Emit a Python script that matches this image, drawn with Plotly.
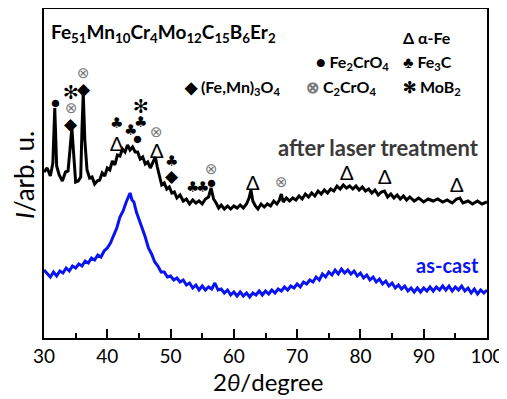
import plotly.graph_objects as go

# ---------------- data (arbitrary intensity units) ----------------
two_theta_laser = [30.0, 30.5, 31.0, 31.4, 31.7, 32.0, 32.4, 32.9, 33.4, 33.8, 34.1, 34.4, 34.7, 35.0, 35.4,
                   35.8, 36.0, 36.2, 36.45, 36.8, 37.2, 37.6, 38.0, 38.4, 38.8, 39.2, 39.6, 40.0, 40.4, 40.8,
                   41.2, 41.6, 42.0, 42.4, 42.8, 43.2, 43.6, 44.0, 44.4, 44.8, 45.2, 45.6, 46.0, 46.4, 46.8,
                   47.2, 47.6, 47.9, 48.2, 48.6, 49.0, 49.4, 49.8, 50.2, 50.6, 51.0, 51.5, 52.0, 52.5, 53.0,
                   53.5, 54.0, 54.5, 55.0, 55.5, 56.0, 56.4, 56.8, 57.2, 57.6, 58.0, 58.5, 59.0, 59.5, 60.0,
                   60.5, 61.0, 61.5, 62.0, 62.4, 62.7, 63.0, 63.4, 63.8, 64.3, 64.8, 65.3, 65.8, 66.3, 66.8,
                   67.2, 67.5, 67.8, 68.3, 68.8, 69.3, 69.8, 70.3, 70.8, 71.3, 71.8, 72.3, 72.8, 73.3, 73.8,
                   74.3, 74.8, 75.3, 75.8, 76.3, 76.8, 77.3, 77.8, 78.3, 78.8, 79.3, 79.8, 80.3, 80.8, 81.3,
                   81.8, 82.3, 82.8, 83.3, 83.8, 84.3, 84.8, 85.3, 85.8, 86.3, 86.8, 87.3, 87.8, 88.5, 89.2,
                   90.0, 90.7, 91.5, 92.2, 93.0, 93.7, 94.5, 95.2, 95.7, 96.2, 97.0, 97.7, 98.5, 99.2, 100.0]
intensity_laser = [166, 170, 162, 175, 230, 172, 163, 157, 166, 167, 188, 210, 183, 156, 157,
                   161, 208, 245, 198, 168, 160, 161, 154, 157, 158, 165, 162, 170, 168, 177,
                   173, 183, 182, 189, 186, 193, 188, 191, 186, 186, 179, 181, 174, 176, 170,
                   176, 181, 171, 163, 153, 155, 149, 151, 145, 146, 140, 143, 137, 139, 134,
                   138, 135, 137, 134, 139, 141, 150, 139, 135, 130, 133, 129, 132, 129, 132,
                   130, 133, 130, 134, 140, 148, 137, 132, 129, 134, 131, 134, 132, 137, 134,
                   138, 144, 136, 140, 137, 140, 138, 142, 139, 144, 141, 145, 142, 147, 144,
                   148, 145, 149, 147, 152, 149, 153, 150, 152, 149, 152, 148, 151, 147, 149,
                   145, 148, 143, 146, 147, 141, 144, 140, 143, 139, 142, 138, 141, 137, 140,
                   136, 139, 137, 139, 136, 138, 135, 139, 140, 135, 137, 134, 137, 134, 136]

two_theta_cast = [30.0, 30.5, 31.0, 31.5, 32.0, 32.5, 33.0, 33.5, 34.0, 34.5, 35.0, 35.5, 36.0, 36.5, 37.0,
                  37.5, 38.0, 38.5, 39.0, 39.5, 40.0, 40.5, 41.0, 41.5, 42.0, 42.5, 43.0, 43.3, 43.6, 43.9,
                  44.2, 44.6, 45.0, 45.5, 46.0, 46.5, 47.0, 47.5, 48.0, 48.5, 49.0, 49.5, 50.0, 50.5, 51.0,
                  51.5, 52.0, 52.5, 53.0, 53.5, 54.0, 54.5, 55.0, 55.5, 56.0, 56.5, 57.0, 57.5, 58.0, 58.5,
                  59.0, 59.5, 60.0, 60.5, 61.0, 61.5, 62.0, 62.5, 63.0, 63.5, 64.0, 64.5, 65.0, 65.5, 66.0,
                  66.5, 67.0, 67.5, 68.0, 68.5, 69.0, 69.5, 70.0, 70.5, 71.0, 71.5, 72.0, 72.5, 73.0, 73.5,
                  74.0, 74.5, 75.0, 75.5, 76.0, 76.5, 77.0, 77.5, 78.0, 78.5, 79.0, 79.5, 80.0, 80.5, 81.0,
                  81.5, 82.0, 82.5, 83.0, 83.5, 84.0, 84.5, 85.0, 85.5, 86.0, 86.5, 87.0, 87.5, 88.0, 88.5,
                  89.0, 89.5, 90.0, 90.5, 91.0, 91.5, 92.0, 92.5, 93.0, 93.5, 94.0, 94.5, 95.0, 95.5, 96.0,
                  96.5, 97.0, 97.5, 98.0, 98.5, 99.0, 99.5, 100.0]
intensity_cast = [68, 64, 61, 66, 62, 67, 65, 70, 67, 72, 70, 74, 72, 77, 75,
                  80, 78, 83, 81, 87, 90, 95, 103, 110, 121, 127, 136, 140, 145, 138,
                  136, 126, 119, 109, 101, 90, 84, 76, 72, 66, 66, 61, 62, 58, 60,
                  56, 58, 53, 55, 50, 53, 48, 52, 48, 51, 49, 55, 48, 49, 45,
                  48, 43, 46, 42, 46, 42, 45, 41, 45, 43, 47, 43, 47, 44, 48,
                  45, 49, 47, 51, 48, 52, 50, 54, 51, 56, 54, 58, 56, 61, 58,
                  64, 61, 66, 63, 68, 64, 69, 65, 68, 64, 67, 62, 65, 60, 63,
                  58, 61, 56, 59, 54, 57, 52, 55, 50, 53, 49, 52, 47, 50, 46,
                  50, 46, 50, 47, 51, 47, 51, 48, 52, 48, 52, 47, 51, 48, 52,
                  47, 50, 45, 49, 44, 48, 45, 48]

# phase markers above the "after laser treatment" pattern
marker_symbols = ["●", "✻", "⊗", "◆", "⊗", "◆", "♣", "Δ", "♣", "✻", "♣", "●",
                  "⊗", "Δ", "♣", "◆", "♣", "♣", "⊗", "●", "Δ", "⊗", "Δ", "Δ", "Δ"]
marker_x = [31.8, 34.3, 34.3, 34.3, 36.2, 36.3, 41.5, 41.5, 43.6, 45.3, 45.3, 44.85,
            47.85, 47.85, 50.2, 50.2, 53.5, 55.1, 56.5, 56.5, 63.0, 67.6, 77.9, 83.9, 95.2]
marker_y = [236, 246, 230, 215, 265, 250, 215, 195, 208, 232, 216, 200,
            206, 188, 177, 163, 151, 151, 169, 156, 156, 156, 166, 162, 154]

legend_items = ["Δ α-Fe", "● Fe<sub>2</sub>CrO<sub>4</sub>", "♣ Fe<sub>3</sub>C",
                "◆ (Fe,Mn)<sub>3</sub>O<sub>4</sub>", "<span style='color:#777'>⊗</span> C<sub>2</sub>CrO<sub>4</sub>",
                "✻ MoB<sub>2</sub>"]

x_ticks = [30, 40, 50, 60, 70, 80, 90, 100]

# ---------------- figure ----------------
FONT = "Lato"
fig = go.Figure()
fig.add_trace(go.Scatter(x=two_theta_cast, y=intensity_cast, mode="lines",
                         line=dict(color="#0a14f0", width=3), showlegend=False))
fig.add_trace(go.Scatter(x=two_theta_laser, y=intensity_laser, mode="lines",
                         line=dict(color="black", width=3), showlegend=False))

# page body has an 8px default margin -> shrink figure and left/top margins by 8px
OFF = 8
W, H = 507, 399
L, R, T, B = 44, 20, 9, 61
pw, ph = W - L - R, H - T - B


def px(xp, yp):
    return (xp - L) / pw, (H - B - yp) / ph


sizes = {"●": 15, "✻": 19, "⊗": 15, "◆": 17, "♣": 15, "Δ": 20}
colors = {"⊗": "#777777"}
for s, xv, yv in zip(marker_symbols, marker_x, marker_y):
    fig.add_annotation(x=xv, y=yv, xref="x", yref="y", text=s, showarrow=False,
                       font=dict(family="DejaVu Sans" if s in "✻⊗♣" else FONT, size=sizes[s],
                                 color=colors.get(s, "black")),
                       xanchor="center", yanchor="middle")

ann_font = dict(family=FONT, size=18, color="black", weight="bold")


def label(text, xp, yp, anchor="left", font=None, angle=0):
    xx, yy = px(xp, yp)
    fig.add_annotation(x=xx, y=yy, xref="paper", yref="paper", text=text, showarrow=False,
                       xanchor=anchor, yanchor="middle", font=font or ann_font, textangle=angle)


label("Fe<sub>51</sub>Mn<sub>10</sub>Cr<sub>4</sub>Mo<sub>12</sub>C<sub>15</sub>B<sub>6</sub>Er<sub>2</sub>",
      49, 33, font=dict(family=FONT, size=19, color="black", weight="bold"))
leg_font = dict(family=FONT, size=16, color="black", weight="bold")
label(legend_items[0], 401, 37, font=leg_font)
label(legend_items[1], 314, 62, font=leg_font)
label(legend_items[2], 401, 62, font=leg_font)
label(legend_items[3], 182, 88, font=leg_font)
label(legend_items[4], 304, 88, font=leg_font)
label(legend_items[5], 401, 88, font=leg_font)
label("after laser treatment", 481, 147, anchor="right",
      font=dict(family=FONT, size=22, color="#3a3a3a", weight="bold"))
label("as-cast", 481, 265, anchor="right",
      font=dict(family=FONT, size=20, color="#0a14f0", weight="bold"))
label("<i>I</i>/arb. u.", 24, 175, anchor="center",
      font=dict(family=FONT, size=26, color="black"), angle=-90)
label("2<i>θ</i>/degree", 268, 381, anchor="center",
      font=dict(family=FONT, size=24, color="black"))

fig.update_layout(
    width=W - OFF, height=H - OFF,
    margin=dict(l=L - OFF, r=R, t=T - OFF, b=B, autoexpand=False),
    paper_bgcolor="white", plot_bgcolor="white",
    xaxis=dict(range=[30, 100], tickvals=x_ticks, ticks="inside", ticklen=9, tickwidth=2,
               tickcolor="black", showline=True, linewidth=2, linecolor="black", mirror=True,
               showgrid=False, zeroline=False,
               tickfont=dict(family=FONT, size=19, color="black"),
               minor=dict(ticks="inside", ticklen=5, tickwidth=2, tickcolor="black",
                          dtick=5, tick0=35, showgrid=False)),
    yaxis=dict(range=[0, 329], showticklabels=False, ticks="", showline=True, linewidth=2,
               linecolor="black", mirror=True, showgrid=False, zeroline=False),
)

fig.write_html("out.html")
